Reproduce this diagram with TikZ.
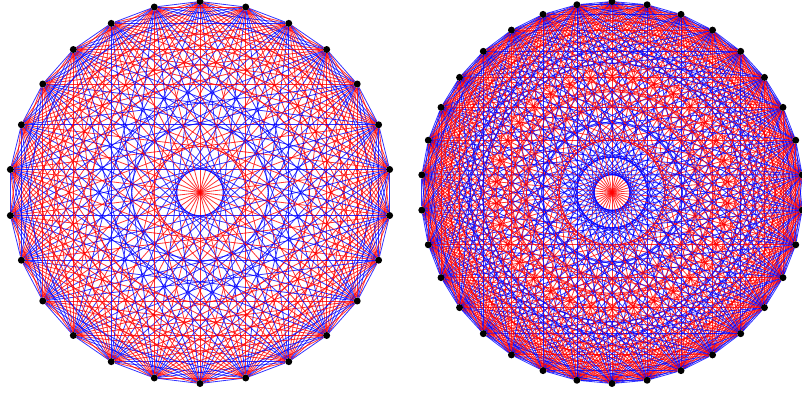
\documentclass[tikz,border=0pt]{standalone}
\usetikzlibrary{positioning,calc}
\pgfdeclarelayer{edges}
\pgfsetlayers{edges,main}

% colour of a chord by its distance 1,2,... round the circle
\def\leftcols{{"blue","red","blue","blue","red","red","red","red","blue","blue","red","blue","red"}}
\def\rightcols{{"blue","blue","red","blue","red","red","red","blue","blue","red","red","red","blue","red","blue","blue","red"}}

\begin{document}
\begin{tikzpicture}[
	x=1pt,
	y=1pt,
	vertex/.style={
		circle,
		fill=black,
		inner sep=0pt,
		minimum size=7pt
	},
	link/.style={
		line width=0.8pt,
		opacity=0.8
	}
	]
	\useasboundingbox (0,0) rectangle (802,394);
	\coordinate (lc) at (200,201.5);
	\coordinate (rc) at (612,201.5);

	% left graph, 26 vertices
	\foreach \i in {0,...,25}
		\node[vertex] (l\i) at ($(lc)+({90-\i*360/26}:191)$) {};
	\begin{pgfonlayer}{edges}
	\foreach \i [evaluate=\i as \ii using int(\i+1)] in {0,...,24}
		\foreach \j in {\ii,...,25} {
			\pgfmathtruncatemacro\d{min(\j-\i,26-\j+\i)}
			\pgfmathsetmacro\c{\leftcols[\d-1]}
			\draw[link,\c] (l\i) -- (l\j);
		}
	\end{pgfonlayer}

	% right graph, 34 vertices
	\foreach \i in {0,...,33}
		\node[vertex] (r\i) at ($(rc)+({90-\i*360/34}:191)$) {};
	\begin{pgfonlayer}{edges}
	\foreach \i [evaluate=\i as \ii using int(\i+1)] in {0,...,32}
		\foreach \j in {\ii,...,33} {
			\pgfmathtruncatemacro\d{min(\j-\i,34-\j+\i)}
			\pgfmathsetmacro\c{\rightcols[\d-1]}
			\draw[link,\c] (r\i) -- (r\j);
		}
	\end{pgfonlayer}
\end{tikzpicture}
\end{document}
